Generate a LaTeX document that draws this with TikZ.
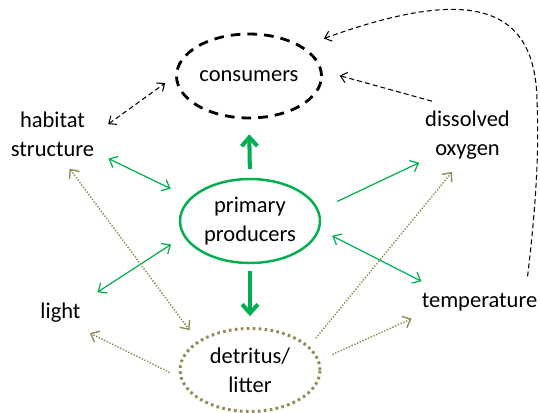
\documentclass[tikz,border=0pt]{standalone}
\usepackage{fontspec}
\setmainfont{Carlito}
\usetikzlibrary{arrows.meta,shapes.geometric}
\definecolor{leafgreen}{RGB}{0,176,80}
\definecolor{litterbrown}{RGB}{148,138,84}
\tikzstyle{dashnode}=[ellipse, draw=black, line width=1.6pt, dash pattern=on 5.5pt off 4pt, minimum width=2.8cm, minimum height=1.68cm, inner sep=1pt, align=center]
\tikzstyle{greennode}=[ellipse, draw=leafgreen, line width=1.4pt, minimum width=2.8cm, minimum height=1.68cm, inner sep=1pt, align=center]
\tikzstyle{dotnode}=[ellipse, draw=litterbrown, line width=1.7pt, dash pattern=on 1.5pt off 1.9pt, minimum width=2.8cm, minimum height=1.66cm, inner sep=1pt, align=center]
\tikzstyle{labelnode}=[inner sep=0pt, align=center]
\tikzstyle{blackline}=[black, line width=0.6pt, dash pattern=on 2.8pt off 1.8pt, >={Straight Barb[length=3.5pt,width=6pt]}]
\tikzstyle{greenline}=[leafgreen, line width=0.7pt, >={Straight Barb[length=4pt,width=7pt]}]
\tikzstyle{thickgreen}=[leafgreen, line width=2.3pt, >={Straight Barb[length=5pt,width=9pt]}]
\tikzstyle{oliveline}=[litterbrown, line width=0.8pt, dash pattern=on 0.8pt off 0.9pt, >={Straight Barb[length=4pt,width=7pt]}]

\begin{document}
\begin{tikzpicture}[x=0.02cm, y=-0.02cm, font=\fontsize{12.8}{16.4}\selectfont]
\useasboundingbox (0,0) rectangle (540,412);
%Nodes
\node[dashnode]  (cons)  at (249,76)      {consumers};
\node[greennode] (prod)  at (250,221)     {primary\\producers};
\node[dotnode]   (detr)  at (250,370)     {detritus/\\litter};
\node[labelnode] (hab)   at (52.5,134)    {habitat\\structure};
\node[labelnode] (oxy)   at (467.5,135.5) {dissolved\\oxygen};
\node[labelnode] (light) at (60.5,313)    {light};
\node[labelnode] (temp)  at (479.5,302.5) {temperature};
%Lines
\draw[thickgreen, ->, shorten <=5pt, shorten >=8.5pt] (prod.north) -- (cons.south);
\draw[thickgreen, ->, shorten <=4pt, shorten >=6.2pt] (prod.south) -- (detr.north);
\draw[blackline, <->, shorten <=9.6pt, shorten >=7pt] (hab.east) -- (cons.west);
\draw[blackline, ->, shorten <=21pt, shorten >=10.2pt] (oxy.north) -- (cons.4);
\draw[blackline, ->, shorten >=12.8pt] ([xshift=-5.7pt,yshift=9.6pt]temp.north east) .. controls +(9,-76) and +(2,50) .. (537,100) .. controls +(-2,-100) and +(160,-58) .. (cons.29);
\draw[greenline, <->, shorten <=8.8pt, shorten >=12.1pt] (hab.-23) -- (prod.159);
\draw[greenline, ->, shorten <=11.4pt, shorten >=3.6pt] (prod.9) -- (oxy.south west);
\draw[greenline, <->, shorten <=11.2pt, shorten >=8.4pt] (light.north east) -- (prod.193);
\draw[greenline, <->, shorten <=15pt, shorten >=7.9pt] (temp.165) -- (prod.-7);
%detritus links
\draw[oliveline, <->, shorten <=8.5pt, shorten >=7.6pt] (hab.-70) -- (detr.151);
\draw[oliveline, ->, shorten <=6.3pt, shorten >=12.9pt] (detr.186) -- (light.-48);
\draw[oliveline, ->, shorten <=5.8pt, shorten >=8.8pt] (detr.22) -- (oxy.-103);
\draw[oliveline, ->, shorten <=8pt, shorten >=9.5pt] (detr.8) -- (temp.190);
\end{tikzpicture}
\end{document}
